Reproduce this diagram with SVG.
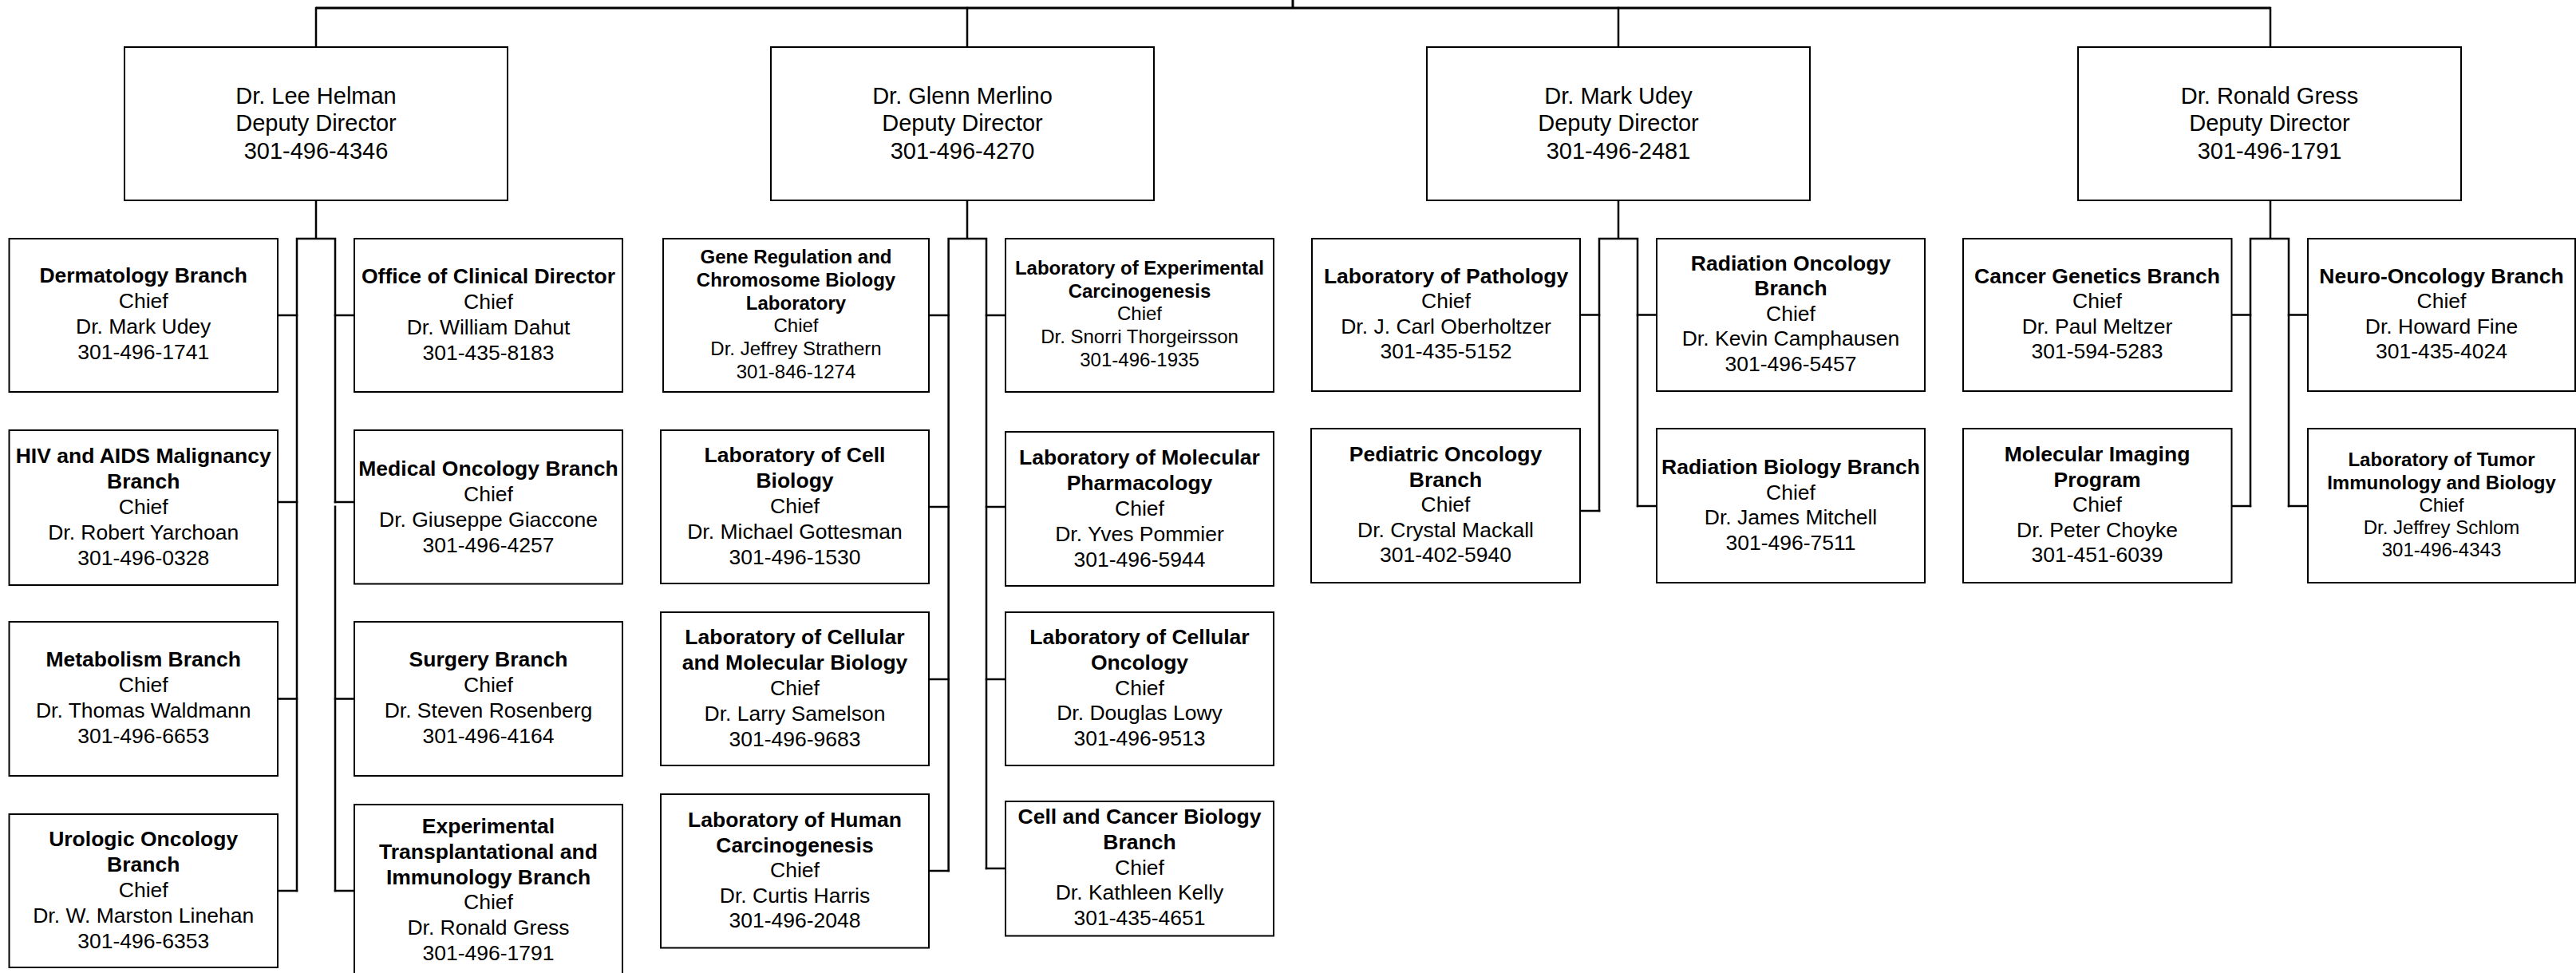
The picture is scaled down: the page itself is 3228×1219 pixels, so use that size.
<svg xmlns="http://www.w3.org/2000/svg" width="3228" height="1219" viewBox="0 0 3228 1219">
<style>
.box{fill:#fff;stroke:#000;stroke-width:2}
.ln{fill:none;stroke:#000;stroke-width:2.5;stroke-linecap:square}
.top{fill:none;stroke:#000;stroke-width:3}
text{font-family:"Liberation Sans",Arial,sans-serif;text-anchor:middle;fill:#000}
.d{font-size:29px}
.c{font-size:26.5px}
.s{font-size:24px}
.b{font-weight:bold}
</style>
<rect x="0" y="0" width="3228" height="1219" fill="#fff"/>
<g id="connectors">
<path class="top" d="M396,10H2845M1620,0V10"/>
<path class="ln" d="M396,10V59M1212,10V59M2028,10V59M2845,10V59"/>
<path class="ln" d="M396,251V299M372,299H420M372,299V1116M420,299V629M420,634.7V1116"/>
<path class="ln" d="M348,395H372M348,629H372M348,875.5H372M348,1116H372"/>
<path class="ln" d="M420,395H444M420,629H444M420,875.5H444M420,1116H444"/>
<path class="ln" d="M1212,251V299M1188.6,299H1236M1188.6,299V1091M1236,299V1088"/>
<path class="ln" d="M1164,395H1188.6M1164,635H1188.6M1164,851H1188.6M1164,1091H1188.6"/>
<path class="ln" d="M1236,395H1260M1236,635H1260M1236,851H1260M1236,1088H1260"/>
<path class="ln" d="M2028,251V299M2004,299H2052M2004,299V640M2052,299V634"/>
<path class="ln" d="M1980,394.5H2004M1980,640H2004M2052,394.5H2076M2052,634H2076"/>
<path class="ln" d="M2845,251V299M2820,299H2868M2820,299V634M2868,299V634"/>
<path class="ln" d="M2796.5,394.5H2820M2796.5,634H2820M2868,394.5H2892M2868,634H2892"/>
</g>

<g id="helman"><rect class="box" x="156" y="59" width="480" height="192"/>
<text class="d" x="396" y="129.5"><tspan x="396">Dr. Lee Helman</tspan><tspan x="396" dy="34.5">Deputy Director</tspan><tspan x="396" dy="34.5">301-496-4346</tspan></text></g>
<g id="merlino"><rect class="box" x="966" y="59" width="480" height="192"/>
<text class="d" x="1206" y="129.5"><tspan x="1206">Dr. Glenn Merlino</tspan><tspan x="1206" dy="34.5">Deputy Director</tspan><tspan x="1206" dy="34.5">301-496-4270</tspan></text></g>
<g id="udey"><rect class="box" x="1788" y="59" width="480" height="192"/>
<text class="d" x="2028" y="129.5"><tspan x="2028">Dr. Mark Udey</tspan><tspan x="2028" dy="34.5">Deputy Director</tspan><tspan x="2028" dy="34.5">301-496-2481</tspan></text></g>
<g id="gress"><rect class="box" x="2604" y="59" width="480" height="192"/>
<text class="d" x="2844" y="129.5"><tspan x="2844">Dr. Ronald Gress</tspan><tspan x="2844" dy="34.5">Deputy Director</tspan><tspan x="2844" dy="34.5">301-496-1791</tspan></text></g>

<g id="dermatology"><rect class="box" x="11.5" y="299" width="336.5" height="192"/>
<text class="c" x="179.7" y="354"><tspan x="179.7" class="b">Dermatology Branch</tspan><tspan x="179.7" dy="32">Chief</tspan><tspan x="179.7" dy="32">Dr. Mark Udey</tspan><tspan x="179.7" dy="32">301-496-1741</tspan></text></g>
<g id="clinical-director"><rect class="box" x="444" y="299" width="336" height="192"/>
<text class="c" x="612" y="355"><tspan x="612" class="b">Office of Clinical Director</tspan><tspan x="612" dy="32">Chief</tspan><tspan x="612" dy="32">Dr. William Dahut</tspan><tspan x="612" dy="32">301-435-8183</tspan></text></g>
<g id="hiv-aids"><rect class="box" x="11.5" y="539" width="336.5" height="194"/>
<text class="c" x="179.7" y="580"><tspan x="179.7" class="b">HIV and AIDS Malignancy</tspan><tspan x="179.7" dy="32" class="b">Branch</tspan><tspan x="179.7" dy="32">Chief</tspan><tspan x="179.7" dy="32">Dr. Robert Yarchoan</tspan><tspan x="179.7" dy="32">301-496-0328</tspan></text></g>
<g id="medical-oncology"><rect class="box" x="444" y="539" width="336" height="192.5"/>
<text class="c" x="612" y="595.6"><tspan x="612" class="b">Medical Oncology Branch</tspan><tspan x="612" dy="32">Chief</tspan><tspan x="612" dy="32">Dr. Giuseppe Giaccone</tspan><tspan x="612" dy="32">301-496-4257</tspan></text></g>
<g id="metabolism"><rect class="box" x="11.5" y="779" width="336.5" height="193"/>
<text class="c" x="179.7" y="835"><tspan x="179.7" class="b">Metabolism Branch</tspan><tspan x="179.7" dy="32">Chief</tspan><tspan x="179.7" dy="32">Dr. Thomas Waldmann</tspan><tspan x="179.7" dy="32">301-496-6653</tspan></text></g>
<g id="surgery"><rect class="box" x="444" y="779" width="336" height="193"/>
<text class="c" x="612" y="835"><tspan x="612" class="b">Surgery Branch</tspan><tspan x="612" dy="32">Chief</tspan><tspan x="612" dy="32">Dr. Steven Rosenberg</tspan><tspan x="612" dy="32">301-496-4164</tspan></text></g>
<g id="urologic-oncology"><rect class="box" x="11.5" y="1020" width="336.5" height="192"/>
<text class="c" x="179.7" y="1059.5"><tspan x="179.7" class="b">Urologic Oncology</tspan><tspan x="179.7" dy="32" class="b">Branch</tspan><tspan x="179.7" dy="32">Chief</tspan><tspan x="179.7" dy="32">Dr. W. Marston Linehan</tspan><tspan x="179.7" dy="32">301-496-6353</tspan></text></g>
<g id="experimental-transplantational"><rect class="box" x="444" y="1008" width="336" height="217"/>
<text class="c" x="612" y="1044"><tspan x="612" class="b">Experimental</tspan><tspan x="612" dy="31.8" class="b">Transplantational and</tspan><tspan x="612" dy="31.8" class="b">Immunology Branch</tspan><tspan x="612" dy="31.8">Chief</tspan><tspan x="612" dy="31.8">Dr. Ronald Gress</tspan><tspan x="612" dy="31.8">301-496-1791</tspan></text></g>

<g id="gene-regulation"><rect class="box" x="831" y="299" width="333" height="192"/>
<text class="s" x="997.5" y="330.2"><tspan x="997.5" class="b">Gene Regulation and</tspan><tspan x="997.5" dy="28.7" class="b">Chromosome Biology</tspan><tspan x="997.5" dy="28.7" class="b">Laboratory</tspan><tspan x="997.5" dy="28.7">Chief</tspan><tspan x="997.5" dy="28.7">Dr. Jeffrey Strathern</tspan><tspan x="997.5" dy="28.7">301-846-1274</tspan></text></g>
<g id="experimental-carcinogenesis"><rect class="box" x="1260" y="299" width="336" height="192"/>
<text class="s" x="1428" y="344"><tspan x="1428" class="b">Laboratory of Experimental</tspan><tspan x="1428" dy="28.7" class="b">Carcinogenesis</tspan><tspan x="1428" dy="28.7">Chief</tspan><tspan x="1428" dy="28.7">Dr. Snorri Thorgeirsson</tspan><tspan x="1428" dy="28.7">301-496-1935</tspan></text></g>
<g id="cell-biology"><rect class="box" x="828" y="539" width="336" height="192"/>
<text class="c" x="996" y="579.3"><tspan x="996" class="b">Laboratory of Cell</tspan><tspan x="996" dy="32" class="b">Biology</tspan><tspan x="996" dy="32">Chief</tspan><tspan x="996" dy="32">Dr. Michael Gottesman</tspan><tspan x="996" dy="32">301-496-1530</tspan></text></g>
<g id="molecular-pharmacology"><rect class="box" x="1260" y="541" width="336" height="193"/>
<text class="c" x="1428" y="581.5"><tspan x="1428" class="b">Laboratory of Molecular</tspan><tspan x="1428" dy="32" class="b">Pharmacology</tspan><tspan x="1428" dy="32">Chief</tspan><tspan x="1428" dy="32">Dr. Yves Pommier</tspan><tspan x="1428" dy="32">301-496-5944</tspan></text></g>
<g id="cellular-molecular-biology"><rect class="box" x="828" y="767" width="336" height="192"/>
<text class="c" x="996" y="807.3"><tspan x="996" class="b">Laboratory of Cellular</tspan><tspan x="996" dy="31.8" class="b">and Molecular Biology</tspan><tspan x="996" dy="31.8">Chief</tspan><tspan x="996" dy="31.8">Dr. Larry Samelson</tspan><tspan x="996" dy="31.8">301-496-9683</tspan></text></g>
<g id="cellular-oncology"><rect class="box" x="1260" y="767" width="336" height="192"/>
<text class="c" x="1428" y="807.3"><tspan x="1428" class="b">Laboratory of Cellular</tspan><tspan x="1428" dy="31.6" class="b">Oncology</tspan><tspan x="1428" dy="31.6">Chief</tspan><tspan x="1428" dy="31.6">Dr. Douglas Lowy</tspan><tspan x="1428" dy="31.6">301-496-9513</tspan></text></g>
<g id="human-carcinogenesis"><rect class="box" x="828" y="995" width="336" height="192.5"/>
<text class="c" x="996" y="1036"><tspan x="996" class="b">Laboratory of Human</tspan><tspan x="996" dy="31.5" class="b">Carcinogenesis</tspan><tspan x="996" dy="31.5">Chief</tspan><tspan x="996" dy="31.5">Dr. Curtis Harris</tspan><tspan x="996" dy="31.5">301-496-2048</tspan></text></g>
<g id="cell-cancer-biology"><rect class="box" x="1260" y="1004" width="336" height="168.5"/>
<text class="c" x="1428" y="1032.3"><tspan x="1428" class="b">Cell and Cancer Biology</tspan><tspan x="1428" dy="31.6" class="b">Branch</tspan><tspan x="1428" dy="31.6">Chief</tspan><tspan x="1428" dy="31.6">Dr. Kathleen Kelly</tspan><tspan x="1428" dy="31.6">301-435-4651</tspan></text></g>

<g id="pathology"><rect class="box" x="1644" y="299" width="336" height="191"/>
<text class="c" x="1812" y="354.8"><tspan x="1812" class="b">Laboratory of Pathology</tspan><tspan x="1812" dy="31.5">Chief</tspan><tspan x="1812" dy="31.5">Dr. J. Carl Oberholtzer</tspan><tspan x="1812" dy="31.5">301-435-5152</tspan></text></g>
<g id="radiation-oncology"><rect class="box" x="2076" y="299" width="336" height="191"/>
<text class="c" x="2244" y="338.8"><tspan x="2244" class="b">Radiation Oncology</tspan><tspan x="2244" dy="31.5" class="b">Branch</tspan><tspan x="2244" dy="31.5">Chief</tspan><tspan x="2244" dy="31.5">Dr. Kevin Camphausen</tspan><tspan x="2244" dy="31.5">301-496-5457</tspan></text></g>
<g id="pediatric-oncology"><rect class="box" x="1643" y="537" width="337" height="193"/>
<text class="c" x="1811.5" y="578"><tspan x="1811.5" class="b">Pediatric Oncology</tspan><tspan x="1811.5" dy="31.5" class="b">Branch</tspan><tspan x="1811.5" dy="31.5">Chief</tspan><tspan x="1811.5" dy="31.5">Dr. Crystal Mackall</tspan><tspan x="1811.5" dy="31.5">301-402-5940</tspan></text></g>
<g id="radiation-biology"><rect class="box" x="2076" y="537" width="336" height="193"/>
<text class="c" x="2244" y="594"><tspan x="2244" class="b">Radiation Biology Branch</tspan><tspan x="2244" dy="31.5">Chief</tspan><tspan x="2244" dy="31.5">Dr. James Mitchell</tspan><tspan x="2244" dy="31.5">301-496-7511</tspan></text></g>

<g id="cancer-genetics"><rect class="box" x="2460" y="299" width="336.5" height="191"/>
<text class="c" x="2628" y="354.5"><tspan x="2628" class="b">Cancer Genetics Branch</tspan><tspan x="2628" dy="31.5">Chief</tspan><tspan x="2628" dy="31.5">Dr. Paul Meltzer</tspan><tspan x="2628" dy="31.5">301-594-5283</tspan></text></g>
<g id="neuro-oncology"><rect class="box" x="2892" y="299" width="335" height="191"/>
<text class="c" x="3059.5" y="354.5"><tspan x="3059.5" class="b">Neuro-Oncology Branch</tspan><tspan x="3059.5" dy="31.5">Chief</tspan><tspan x="3059.5" dy="31.5">Dr. Howard Fine</tspan><tspan x="3059.5" dy="31.5">301-435-4024</tspan></text></g>
<g id="molecular-imaging"><rect class="box" x="2460" y="537" width="336.5" height="193"/>
<text class="c" x="2628" y="578"><tspan x="2628" class="b">Molecular Imaging</tspan><tspan x="2628" dy="31.5" class="b">Program</tspan><tspan x="2628" dy="31.5">Chief</tspan><tspan x="2628" dy="31.5">Dr. Peter Choyke</tspan><tspan x="2628" dy="31.5">301-451-6039</tspan></text></g>
<g id="tumor-immunology"><rect class="box" x="2892" y="537" width="335" height="193"/>
<text class="s" x="3059.5" y="584.2"><tspan x="3059.5" class="b">Laboratory of Tumor</tspan><tspan x="3059.5" dy="28.3" class="b">Immunology and Biology</tspan><tspan x="3059.5" dy="28.3">Chief</tspan><tspan x="3059.5" dy="28.3">Dr. Jeffrey Schlom</tspan><tspan x="3059.5" dy="28.3">301-496-4343</tspan></text></g>
</svg>
